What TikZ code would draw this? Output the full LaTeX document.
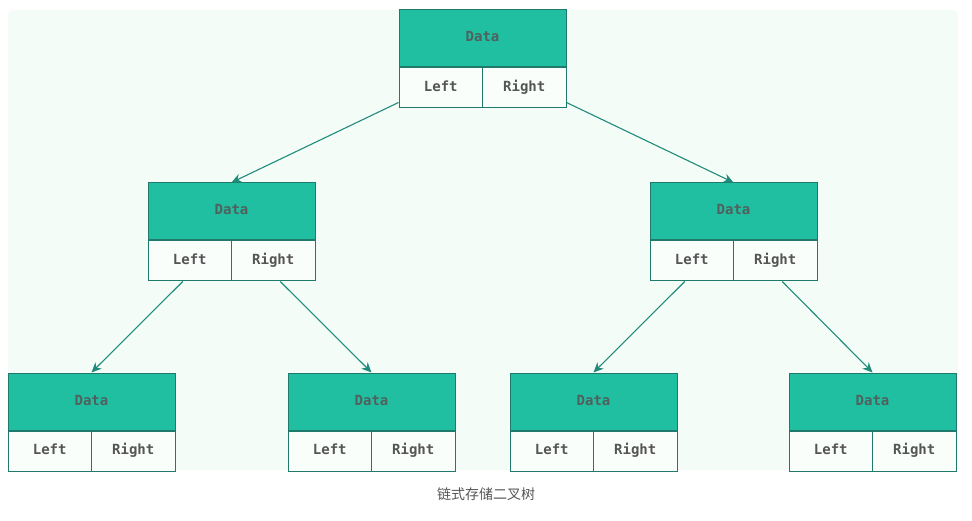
\documentclass[tikz,border=0pt]{standalone}
\usepackage{fontspec}
\setmonofont{DejaVu Sans Mono}
\newfontfamily\cjk{Noto Sans CJK SC}
\usetikzlibrary{positioning,arrows.meta}
\definecolor{teal1}{HTML}{21BFA2}
\definecolor{edge1}{HTML}{1F7A6B}
\definecolor{mint}{HTML}{F4FCF8}
\definecolor{txt}{HTML}{555555}
\tikzset{
  datacell/.style={draw=edge1, fill=teal1, line width=1pt, minimum width=167pt, minimum height=57pt,
    inner sep=0pt, text height=10pt, text depth=3pt,
    font=\ttfamily\bfseries\fontsize{14}{14}\selectfont, text=txt!90!teal1},
  ptrcell/.style={draw=edge1, fill=mint!50!white, line width=1pt, minimum width=83.5pt, minimum height=40pt,
    inner sep=0pt, text height=10pt, text depth=3pt,
    font=\ttfamily\bfseries\fontsize{14}{14}\selectfont, text=txt},
  link/.style={draw=edge1!75!teal1, line width=1.1pt, -{Stealth[length=10pt,width=9pt]}}
}
\newcommand{\bnode}[2]{%
  \node[datacell] (#1) at (#2) {Data};
  \node[ptrcell, anchor=north west] (#1L) at (#1.south west) {Left};
  \node[ptrcell, anchor=north east] (#1R) at (#1.south east) {Right};
}
\begin{document}
\begin{tikzpicture}[x=1pt,y=-1pt]
  \useasboundingbox (0,0) rectangle (972,521);
  \fill[mint, rounded corners=4pt] (8,10) rectangle (958,470);

  % tree nodes
  \bnode{root}{482.5,38.5}
  \bnode{a}{231.5,211.5}
  \bnode{b}{733.5,211.5}
  \bnode{aa}{91.5,401.5}
  \bnode{ab}{371.5,401.5}
  \bnode{ba}{593.5,401.5}
  \bnode{bb}{872.5,401.5}

  % links
  \draw[link] (rootL.south west) ++(0,-6) coordinate (r1) -- (a.north);
  \draw[link] (rootR.south east) ++(0,-6) coordinate (r2) -- (b.north);
  \draw[link] (aL.south) ++(-7,0) coordinate (a1) -- (aa.north);
  \draw[link] (aR.south) ++(7,0) coordinate (a2) -- (ab.north);
  \draw[link] (bL.south) ++(-7,0) coordinate (b1) -- (ba.north);
  \draw[link] (bR.south) ++(7,0) coordinate (b2) -- (bb.north);

  \node[text=txt, font=\cjk\fontsize{14}{14}\selectfont] (cap) at (486,494) {链式存储二叉树};
\end{tikzpicture}
\end{document}
